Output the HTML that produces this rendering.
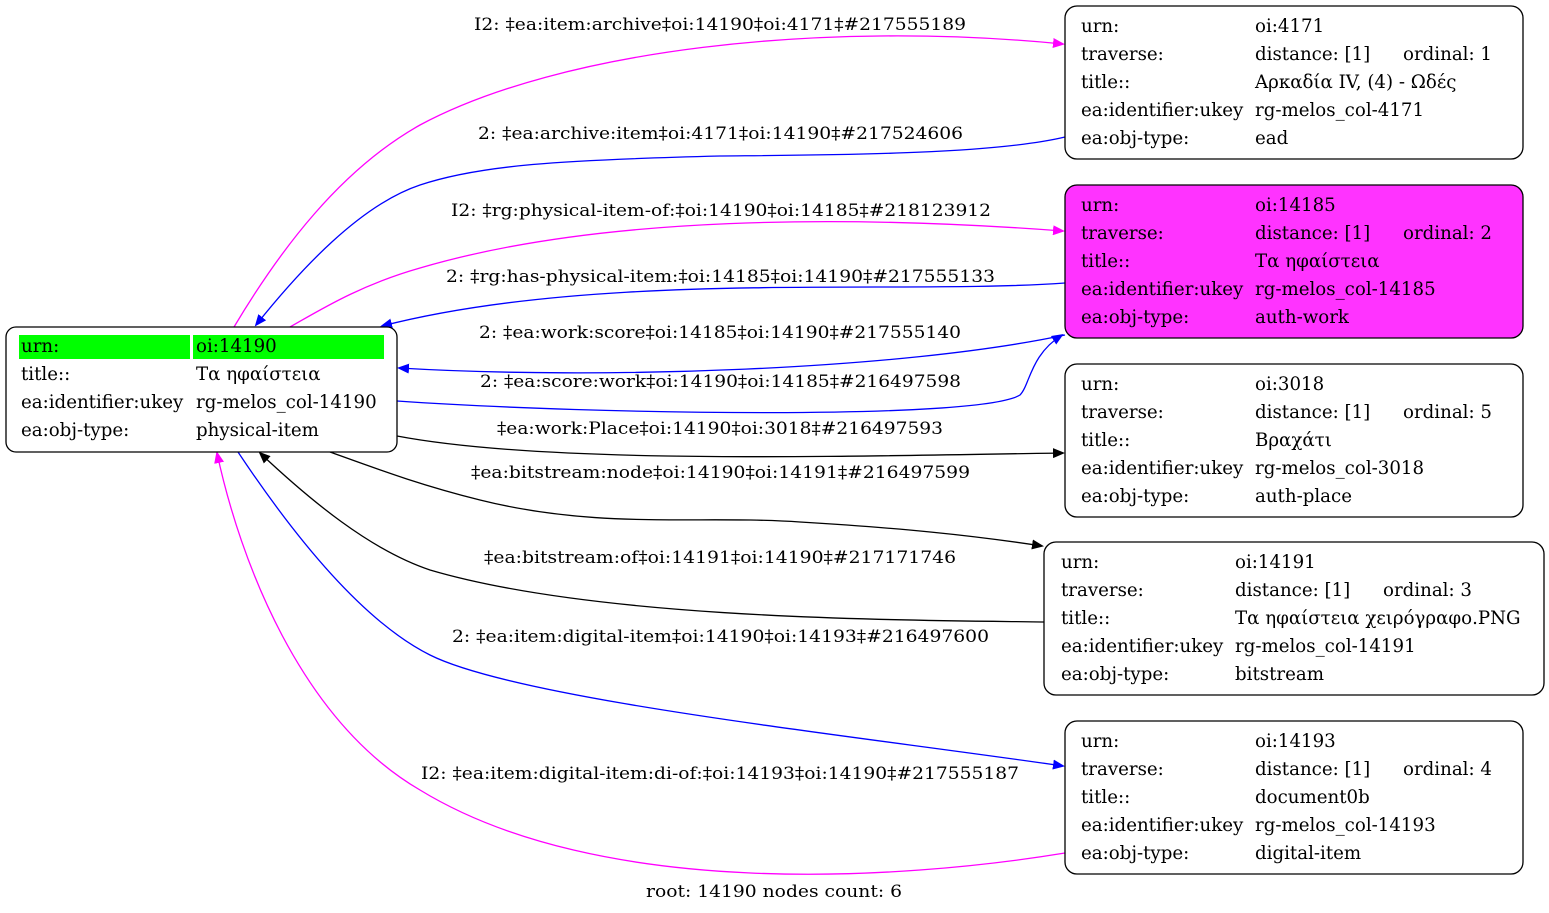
<!DOCTYPE html>
<html><head><meta charset="utf-8"><style>
html,body{margin:0;padding:0;background:#fff}
svg{display:block}
text{font-family:"DejaVu Serif","Liberation Serif",serif;font-size:17px;fill:#000}
.n text{font-size:18.2px}
</style></head><body>
<svg width="1549" height="913" viewBox="0 0 1549 913" xmlns="http://www.w3.org/2000/svg">
<defs>
<marker id="am" markerWidth="12" markerHeight="10" refX="10" refY="5" orient="auto" markerUnits="userSpaceOnUse"><path d="M0,0 L12,5 L0,10 z" fill="#ff00ff"/></marker>
<marker id="ab" markerWidth="12" markerHeight="10" refX="10" refY="5" orient="auto" markerUnits="userSpaceOnUse"><path d="M0,0 L12,5 L0,10 z" fill="#0000ff"/></marker>
<marker id="ak" markerWidth="12" markerHeight="10" refX="10" refY="5" orient="auto" markerUnits="userSpaceOnUse"><path d="M0,0 L12,5 L0,10 z" fill="#000"/></marker>
</defs>
<g fill="none" stroke-width="1.3">
<path d="M234,327 C280,250 340,170 420,125 C560,50 820,20 1063,44" stroke="#ff00ff" marker-end="url(#am)"/>
<path d="M1065,137 C990,155 820,155 720,156 C560,160 480,165 420,185 C360,205 300,270 256,325" stroke="#0000ff" marker-end="url(#ab)"/>
<path d="M290,327 C320,310 360,285 420,268 C600,215 850,215 1063,231" stroke="#ff00ff" marker-end="url(#am)"/>
<path d="M1065,283 C900,295 600,270 382,326" stroke="#0000ff" marker-end="url(#ab)"/>
<path d="M1065,335 C900,370 600,380 399,368" stroke="#0000ff" marker-end="url(#ab)"/>
<path d="M397,401 C600,415 980,420 1020,395 C1030,385 1030,355 1062,335" stroke="#0000ff" marker-end="url(#ab)"/>
<path d="M397,436 C550,465 850,456 1063,453" stroke="#000" marker-end="url(#ak)"/>
<path d="M330,452 C380,470 420,485 480,500 C600,530 700,515 800,522 C900,528 970,535 1042,546" stroke="#000" marker-end="url(#ak)"/>
<path d="M1044,622 C900,620 600,620 430,570 C370,550 310,500 260,453" stroke="#000" marker-end="url(#ak)"/>
<path d="M238,452 C290,530 360,620 430,655 C520,700 850,735 1063,766" stroke="#0000ff" marker-end="url(#ab)"/>
<path d="M1065,853 C900,880 600,900 420,790 C300,720 240,560 217,453" stroke="#ff00ff" marker-end="url(#am)"/>
</g>
<g>
<text x="474" y="30" textLength="492" lengthAdjust="spacingAndGlyphs">I2: ‡ea:item:archive‡oi:14190‡oi:4171‡#217555189</text>
<text x="478" y="139" textLength="485" lengthAdjust="spacingAndGlyphs">2: ‡ea:archive:item‡oi:4171‡oi:14190‡#217524606</text>
<text x="451" y="216" textLength="540" lengthAdjust="spacingAndGlyphs">I2: ‡rg:physical-item-of:‡oi:14190‡oi:14185‡#218123912</text>
<text x="446" y="282" textLength="549" lengthAdjust="spacingAndGlyphs">2: ‡rg:has-physical-item:‡oi:14185‡oi:14190‡#217555133</text>
<text x="479" y="338" textLength="482" lengthAdjust="spacingAndGlyphs">2: ‡ea:work:score‡oi:14185‡oi:14190‡#217555140</text>
<text x="480" y="387" textLength="481" lengthAdjust="spacingAndGlyphs">2: ‡ea:score:work‡oi:14190‡oi:14185‡#216497598</text>
<text x="497" y="434" textLength="446" lengthAdjust="spacingAndGlyphs">‡ea:work:Place‡oi:14190‡oi:3018‡#216497593</text>
<text x="471" y="478" textLength="499" lengthAdjust="spacingAndGlyphs">‡ea:bitstream:node‡oi:14190‡oi:14191‡#216497599</text>
<text x="484" y="563" textLength="472" lengthAdjust="spacingAndGlyphs">‡ea:bitstream:of‡oi:14191‡oi:14190‡#217171746</text>
<text x="452" y="642" textLength="537" lengthAdjust="spacingAndGlyphs">2: ‡ea:item:digital-item‡oi:14190‡oi:14193‡#216497600</text>
<text x="421" y="779" textLength="598" lengthAdjust="spacingAndGlyphs">I2: ‡ea:item:digital-item:di-of:‡oi:14193‡oi:14190‡#217555187</text>
<text x="646" y="897" textLength="256" lengthAdjust="spacingAndGlyphs">root: 14190 nodes count: 6</text>
</g>
<g class="n">
<rect x="6" y="327" width="391" height="125" rx="10" fill="#fff" stroke="#000" stroke-width="1.3"/>
<rect x="19" y="335" width="171" height="24" fill="#00ff00"/>
<rect x="193" y="335" width="191" height="24" fill="#00ff00"/>
<text x="21" y="352">urn:</text><text x="196" y="352">oi:14190</text>
<text x="21" y="380">title::</text><text x="196" y="380">Τα ηφαίστεια</text>
<text x="21" y="408">ea:identifier:ukey</text><text x="196" y="408">rg-melos_col-14190</text>
<text x="21" y="436">ea:obj-type:</text><text x="196" y="436">physical-item</text>

<rect x="1065" y="6" width="458" height="153" rx="12" fill="#fff" stroke="#000" stroke-width="1.3"/>
<text x="1081" y="32">urn:</text><text x="1255" y="32">oi:4171</text>
<text x="1081" y="60">traverse:</text><text x="1255" y="60">distance: [1]</text><text x="1403" y="60">ordinal: 1</text>
<text x="1081" y="88">title::</text><text x="1255" y="88">Αρκαδία IV, (4) - Ωδές</text>
<text x="1081" y="116">ea:identifier:ukey</text><text x="1255" y="116">rg-melos_col-4171</text>
<text x="1081" y="144">ea:obj-type:</text><text x="1255" y="144">ead</text>

<rect x="1065" y="185" width="458" height="153" rx="12" fill="#ff33ff" stroke="#000" stroke-width="1.3"/>
<text x="1081" y="211">urn:</text><text x="1255" y="211">oi:14185</text>
<text x="1081" y="239">traverse:</text><text x="1255" y="239">distance: [1]</text><text x="1403" y="239">ordinal: 2</text>
<text x="1081" y="267">title::</text><text x="1255" y="267">Τα ηφαίστεια</text>
<text x="1081" y="295">ea:identifier:ukey</text><text x="1255" y="295">rg-melos_col-14185</text>
<text x="1081" y="323">ea:obj-type:</text><text x="1255" y="323">auth-work</text>

<rect x="1065" y="364" width="458" height="153" rx="12" fill="#fff" stroke="#000" stroke-width="1.3"/>
<text x="1081" y="390">urn:</text><text x="1255" y="390">oi:3018</text>
<text x="1081" y="418">traverse:</text><text x="1255" y="418">distance: [1]</text><text x="1403" y="418">ordinal: 5</text>
<text x="1081" y="446">title::</text><text x="1255" y="446">Βραχάτι</text>
<text x="1081" y="474">ea:identifier:ukey</text><text x="1255" y="474">rg-melos_col-3018</text>
<text x="1081" y="502">ea:obj-type:</text><text x="1255" y="502">auth-place</text>

<rect x="1044" y="542" width="500" height="153" rx="12" fill="#fff" stroke="#000" stroke-width="1.3"/>
<text x="1061" y="568">urn:</text><text x="1235" y="568">oi:14191</text>
<text x="1061" y="596">traverse:</text><text x="1235" y="596">distance: [1]</text><text x="1383" y="596">ordinal: 3</text>
<text x="1061" y="624">title::</text><text x="1235" y="624">Τα ηφαίστεια χειρόγραφο.PNG</text>
<text x="1061" y="652">ea:identifier:ukey</text><text x="1235" y="652">rg-melos_col-14191</text>
<text x="1061" y="680">ea:obj-type:</text><text x="1235" y="680">bitstream</text>

<rect x="1065" y="721" width="458" height="153" rx="12" fill="#fff" stroke="#000" stroke-width="1.3"/>
<text x="1081" y="747">urn:</text><text x="1255" y="747">oi:14193</text>
<text x="1081" y="775">traverse:</text><text x="1255" y="775">distance: [1]</text><text x="1403" y="775">ordinal: 4</text>
<text x="1081" y="803">title::</text><text x="1255" y="803">document0b</text>
<text x="1081" y="831">ea:identifier:ukey</text><text x="1255" y="831">rg-melos_col-14193</text>
<text x="1081" y="859">ea:obj-type:</text><text x="1255" y="859">digital-item</text>
</g>
</svg>
</body></html>
